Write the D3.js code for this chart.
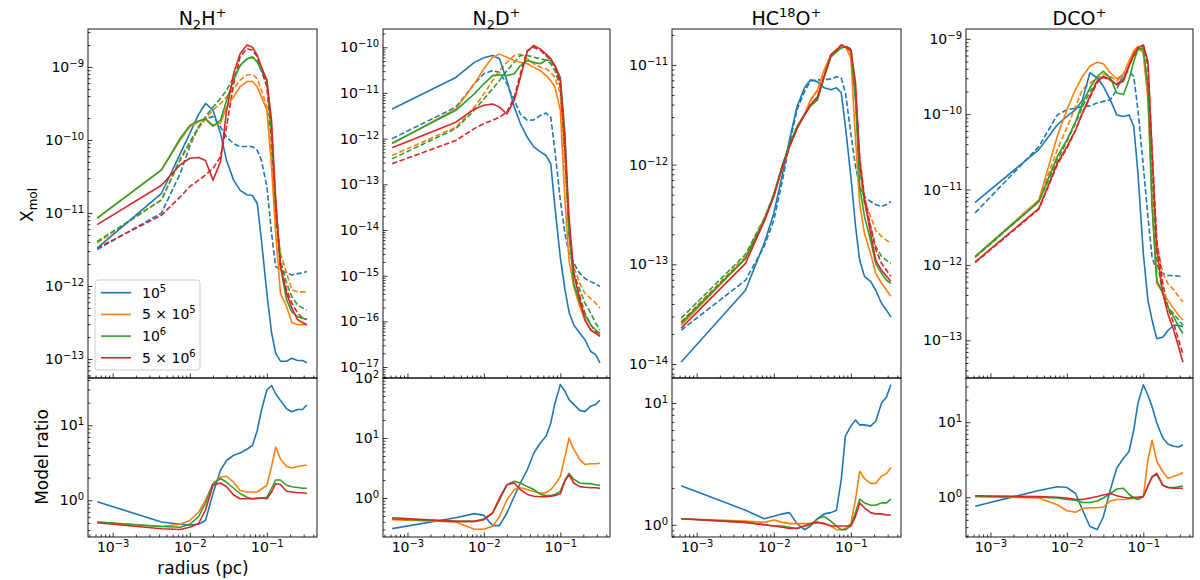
<!DOCTYPE html>
<html>
<head>
<meta charset="UTF-8">
<title>Model abundance profiles</title>
<script src="https://d3js.org/d3.v7.min.js"></script>
<style>
  body { margin: 0; background: #fff; }
  svg text { font-family: "DejaVu Sans", sans-serif; fill: #000; }
</style>
</head>
<body>
<svg id="mainsvg" width="1200" height="580"></svg>
<script>
// radius grid (pc), shared by all models
const radius = [6.3e-4, 4.3e-3, 7.5e-3, 1.0e-2, 1.3e-2, 1.6e-2, 2.0e-2, 2.5e-2, 3.0e-2, 3.7e-2, 4.5e-2, 5.5e-2,
                6.5e-2, 7.5e-2, 8.5e-2, 0.10, 0.115, 0.13, 0.15, 0.18, 0.21, 0.25, 0.29, 0.33];
const modelLabels = [['10', '5'], ['5 × 10', '5'], ['10', '6'], ['5 × 10', '6']];
const modelColors = ['#1f77b4', '#ff7f0e', '#2ca02c', '#d62728'];

// values, stored as log10 (blue, orange, green, red)
const n2hSolid = [
  [-11.48, -10.73, -10.19, -9.91, -9.65, -9.50, -9.59, -9.91, -10.28, -10.55, -10.69, -10.75, -10.76, -10.87, -11.37, -12.10, -12.64, -12.92, -13.03, -13.03, -12.99, -13.02, -13.02, -13.05],
  [-11.07, -10.41, -10.00, -9.82, -9.75, -9.71, -9.80, -9.77, -9.55, -9.41, -9.27, -9.20, -9.20, -9.27, -9.41, -9.59, -10.37, -11.28, -12.10, -12.28, -12.50, -12.53, -12.53, -12.53],
  [-11.07, -10.41, -9.98, -9.80, -9.74, -9.71, -9.81, -9.73, -9.46, -9.18, -8.98, -8.89, -8.86, -8.93, -9.05, -9.18, -9.91, -10.82, -11.73, -12.19, -12.35, -12.42, -12.44, -12.46],
  [-11.16, -10.62, -10.34, -10.25, -10.24, -10.28, -10.55, -10.30, -9.60, -9.09, -8.82, -8.70, -8.73, -8.84, -9.00, -9.18, -9.73, -10.82, -11.73, -12.10, -12.30, -12.46, -12.50, -12.53]
];
const n2hDashed = [
  [-11.50, -11.00, -10.46, -10.09, -9.82, -9.71, -9.68, -9.82, -9.96, -10.05, -10.09, -10.09, -10.09, -10.14, -10.28, -10.64, -11.28, -11.73, -11.78, -11.82, -11.85, -11.83, -11.82, -11.80],
  [-11.41, -10.82, -10.28, -10.05, -9.84, -9.71, -9.59, -9.50, -9.41, -9.30, -9.18, -9.11, -9.10, -9.16, -9.32, -9.55, -10.28, -11.05, -11.55, -11.82, -12.05, -12.08, -12.08, -12.08],
  [-11.39, -10.82, -10.26, -10.03, -9.82, -9.68, -9.55, -9.43, -9.32, -9.14, -8.98, -8.89, -8.87, -8.93, -9.05, -9.23, -10.00, -10.91, -11.64, -11.96, -12.14, -12.26, -12.30, -12.33],
  [-11.48, -11.03, -10.78, -10.64, -10.55, -10.48, -10.39, -10.23, -9.82, -9.23, -8.86, -8.75, -8.77, -8.86, -9.05, -9.27, -10.00, -11.00, -11.73, -12.05, -12.23, -12.37, -12.44, -12.46]
];
const n2hRatio = [
  [-0.02, -0.29, -0.32, -0.33, -0.32, -0.27, 0.09, 0.40, 0.53, 0.60, 0.63, 0.68, 0.73, 0.93, 1.20, 1.47, 1.53, 1.42, 1.33, 1.22, 1.18, 1.21, 1.21, 1.27],
  [-0.29, -0.35, -0.32, -0.27, -0.16, 0.00, 0.22, 0.31, 0.32, 0.24, 0.13, 0.11, 0.11, 0.11, 0.15, 0.20, 0.45, 0.71, 0.55, 0.45, 0.43, 0.45, 0.46, 0.47],
  [-0.29, -0.35, -0.36, -0.32, -0.22, -0.04, 0.22, 0.29, 0.24, 0.16, 0.09, 0.04, 0.02, 0.02, 0.03, 0.04, 0.16, 0.27, 0.27, 0.20, 0.18, 0.17, 0.16, 0.16],
  [-0.30, -0.38, -0.39, -0.36, -0.31, -0.13, 0.20, 0.23, 0.18, 0.07, 0.02, 0.02, 0.02, 0.03, 0.03, 0.02, 0.11, 0.22, 0.21, 0.12, 0.11, 0.10, 0.10, 0.09]
];

const n2dSolid = [
  [-11.35, -10.66, -10.33, -10.23, -10.18, -10.25, -10.73, -11.31, -11.67, -11.97, -12.18, -12.29, -12.37, -12.55, -13.50, -14.60, -15.30, -15.80, -16.08, -16.26, -16.40, -16.66, -16.73, -16.91],
  [-12.11, -11.35, -10.80, -10.47, -10.22, -10.15, -10.22, -10.29, -10.33, -10.36, -10.44, -10.51, -10.62, -10.73, -10.87, -11.38, -13.35, -14.66, -15.24, -15.68, -15.97, -16.19, -16.26, -16.30],
  [-12.10, -11.38, -11.02, -10.80, -10.62, -10.60, -10.62, -10.58, -10.40, -10.29, -10.33, -10.36, -10.28, -10.29, -10.40, -10.66, -11.89, -14.08, -15.17, -15.60, -15.86, -16.08, -16.19, -16.26],
  [-12.20, -11.64, -11.35, -11.27, -11.24, -11.31, -11.46, -11.16, -10.66, -10.09, -9.96, -10.04, -10.15, -10.25, -10.40, -10.73, -12.04, -13.71, -14.95, -15.53, -15.97, -16.19, -16.26, -16.33]
];
const n2dDashed = [
  [-12.00, -11.31, -10.80, -10.58, -10.51, -10.55, -10.80, -11.16, -11.46, -11.60, -11.59, -11.49, -11.44, -11.53, -12.26, -13.35, -14.08, -14.51, -14.73, -14.95, -15.06, -15.13, -15.18, -15.24],
  [-12.37, -11.75, -11.31, -11.02, -10.73, -10.51, -10.33, -10.18, -10.15, -10.25, -10.36, -10.44, -10.47, -10.55, -10.66, -11.02, -12.62, -14.08, -14.80, -15.17, -15.39, -15.50, -15.60, -15.71],
  [-12.44, -11.78, -11.38, -11.13, -10.91, -10.73, -10.51, -10.33, -10.18, -10.18, -10.22, -10.25, -10.28, -10.36, -10.51, -10.87, -12.26, -14.08, -14.95, -15.31, -15.60, -15.82, -16.04, -16.19],
  [-12.55, -12.04, -11.78, -11.67, -11.60, -11.53, -11.42, -11.09, -10.58, -10.07, -10.00, -10.07, -10.18, -10.29, -10.44, -10.80, -12.26, -13.93, -14.95, -15.46, -15.82, -16.08, -16.22, -16.30]
];
const n2dRatio = [
  [-0.51, -0.33, -0.26, -0.29, -0.46, -0.46, -0.25, 0.03, 0.25, 0.47, 0.75, 0.92, 1.03, 1.25, 1.58, 1.89, 1.78, 1.64, 1.56, 1.46, 1.44, 1.53, 1.56, 1.63],
  [-0.36, -0.40, -0.52, -0.52, -0.47, -0.31, -0.03, 0.14, 0.17, 0.14, 0.11, 0.08, 0.09, 0.14, 0.22, 0.36, 0.69, 1.00, 0.81, 0.64, 0.56, 0.57, 0.57, 0.58],
  [-0.35, -0.39, -0.39, -0.35, -0.25, -0.03, 0.22, 0.28, 0.25, 0.19, 0.14, 0.06, 0.04, 0.04, 0.06, 0.11, 0.30, 0.41, 0.31, 0.25, 0.24, 0.24, 0.22, 0.21],
  [-0.33, -0.39, -0.39, -0.36, -0.25, 0.00, 0.22, 0.25, 0.14, 0.06, 0.03, 0.02, 0.02, 0.03, 0.04, 0.07, 0.28, 0.39, 0.25, 0.19, 0.18, 0.17, 0.17, 0.16]
];

const hc18oSolid = [
  [-13.98, -13.26, -12.79, -12.49, -12.09, -11.75, -11.42, -11.23, -11.15, -11.17, -11.23, -11.25, -11.23, -11.28, -11.62, -12.12, -12.62, -12.96, -13.12, -13.17, -13.26, -13.39, -13.46, -13.53],
  [-13.61, -12.94, -12.56, -12.32, -12.02, -11.82, -11.64, -11.50, -11.35, -11.25, -11.05, -10.90, -10.85, -10.82, -10.82, -10.93, -11.75, -12.39, -12.69, -12.89, -13.09, -13.19, -13.26, -13.32],
  [-13.59, -12.94, -12.56, -12.30, -12.00, -11.80, -11.62, -11.50, -11.41, -11.35, -11.12, -10.92, -10.87, -10.83, -10.82, -10.85, -11.35, -12.22, -12.52, -12.76, -12.99, -13.09, -13.16, -13.19],
  [-13.64, -12.99, -12.57, -12.32, -12.02, -11.82, -11.64, -11.50, -11.40, -11.32, -11.12, -10.90, -10.85, -10.80, -10.82, -10.85, -11.18, -11.95, -12.35, -12.69, -12.96, -13.06, -13.12, -13.17]
];
const hc18oDashed = [
  [-13.66, -13.16, -12.82, -12.56, -12.15, -11.79, -11.45, -11.27, -11.16, -11.15, -11.15, -11.14, -11.12, -11.13, -11.28, -11.69, -12.02, -12.22, -12.32, -12.37, -12.40, -12.42, -12.40, -12.37],
  [-13.58, -12.92, -12.55, -12.31, -12.01, -11.81, -11.63, -11.50, -11.36, -11.26, -11.06, -10.90, -10.85, -10.82, -10.82, -10.88, -11.35, -12.02, -12.35, -12.52, -12.66, -12.72, -12.76, -12.79],
  [-13.54, -12.90, -12.54, -12.30, -12.00, -11.80, -11.62, -11.50, -11.41, -11.34, -11.12, -10.92, -10.86, -10.83, -10.82, -10.84, -11.32, -12.02, -12.39, -12.62, -12.82, -12.92, -12.96, -12.99],
  [-13.58, -12.94, -12.56, -12.31, -12.01, -11.81, -11.63, -11.50, -11.40, -11.32, -11.12, -10.90, -10.85, -10.80, -10.81, -10.84, -11.28, -11.92, -12.32, -12.62, -12.85, -12.99, -13.06, -13.12]
];
const hc18oRatio = [
  [0.32, 0.12, 0.05, 0.07, 0.09, 0.10, 0.01, -0.04, -0.01, 0.05, 0.09, 0.10, 0.12, 0.37, 0.73, 0.81, 0.86, 0.82, 0.82, 0.81, 0.85, 1.00, 1.05, 1.15],
  [0.05, 0.03, 0.02, 0.04, 0.02, 0.01, 0.01, 0.01, 0.01, 0.02, 0.01, -0.01, -0.04, -0.04, -0.03, 0.01, 0.21, 0.44, 0.38, 0.34, 0.34, 0.40, 0.42, 0.47],
  [0.05, 0.02, 0.00, -0.01, -0.01, -0.02, -0.03, -0.01, 0.00, 0.05, 0.07, 0.03, -0.01, -0.04, -0.04, -0.01, 0.10, 0.21, 0.18, 0.16, 0.16, 0.18, 0.18, 0.21],
  [0.05, 0.02, 0.00, -0.01, -0.02, -0.03, -0.03, -0.01, 0.01, 0.02, 0.01, -0.01, -0.01, -0.01, -0.01, -0.01, 0.07, 0.18, 0.14, 0.10, 0.09, 0.09, 0.08, 0.08]
];

const dcoSolid = [
  [-11.17, -10.47, -10.14, -10.03, -9.94, -9.81, -9.45, -9.52, -9.63, -9.81, -10.01, -10.03, -10.01, -10.16, -10.78, -11.85, -12.47, -12.73, -12.98, -12.96, -12.87, -12.80, -12.80, -12.82],
  [-11.89, -11.14, -10.29, -9.94, -9.67, -9.50, -9.36, -9.31, -9.33, -9.45, -9.53, -9.47, -9.30, -9.16, -9.10, -9.19, -9.81, -11.14, -12.25, -12.36, -12.47, -12.58, -12.67, -12.73],
  [-11.89, -11.16, -10.56, -10.34, -10.10, -9.85, -9.65, -9.50, -9.43, -9.52, -9.72, -9.74, -9.54, -9.30, -9.14, -9.12, -9.67, -11.23, -12.20, -12.38, -12.56, -12.69, -12.82, -12.91],
  [-11.96, -11.25, -10.65, -10.43, -10.21, -9.98, -9.76, -9.56, -9.50, -9.54, -9.61, -9.56, -9.36, -9.21, -9.12, -9.08, -9.30, -10.47, -11.80, -12.38, -12.65, -12.87, -13.09, -13.29]
];
const dcoDashed = [
  [-11.31, -10.43, -10.01, -9.94, -9.92, -9.90, -9.89, -9.85, -9.83, -9.81, -9.67, -9.47, -9.43, -9.50, -9.94, -10.69, -11.36, -11.89, -12.09, -12.11, -12.14, -12.14, -12.15, -12.15],
  [-11.89, -11.14, -10.47, -10.18, -9.90, -9.67, -9.59, -9.52, -9.47, -9.50, -9.56, -9.47, -9.30, -9.18, -9.12, -9.19, -9.75, -10.92, -11.71, -12.11, -12.25, -12.33, -12.42, -12.49],
  [-11.90, -11.16, -10.61, -10.36, -10.12, -9.90, -9.70, -9.56, -9.50, -9.54, -9.61, -9.54, -9.36, -9.23, -9.14, -9.14, -9.63, -10.83, -11.94, -12.38, -12.56, -12.65, -12.73, -12.80],
  [-11.97, -11.26, -10.67, -10.45, -10.21, -9.99, -9.78, -9.58, -9.51, -9.55, -9.60, -9.54, -9.36, -9.21, -9.12, -9.09, -9.36, -10.47, -11.67, -12.25, -12.56, -12.78, -13.00, -13.18]
];
const dcoRatio = [
  [-0.12, 0.09, 0.14, 0.13, 0.05, -0.17, -0.39, -0.43, -0.26, 0.10, 0.39, 0.52, 0.61, 0.90, 1.25, 1.50, 1.36, 1.21, 0.99, 0.79, 0.71, 0.68, 0.67, 0.70],
  [0.01, -0.01, -0.10, -0.18, -0.20, -0.15, -0.14, -0.14, -0.13, -0.05, -0.03, -0.03, -0.02, -0.02, -0.01, 0.01, 0.50, 0.76, 0.48, 0.34, 0.25, 0.28, 0.30, 0.33],
  [0.01, 0.00, -0.01, -0.03, -0.04, -0.07, -0.07, -0.05, -0.01, 0.05, 0.11, 0.12, 0.04, -0.01, -0.03, 0.01, 0.15, 0.27, 0.31, 0.16, 0.13, 0.13, 0.14, 0.15],
  [0.02, 0.01, 0.00, -0.01, -0.03, -0.03, -0.01, 0.01, 0.03, 0.05, 0.02, 0.00, -0.01, 0.00, 0.00, 0.01, 0.15, 0.27, 0.32, 0.16, 0.13, 0.12, 0.12, 0.12]
];

// panel layout
const panels = [
  {title: [['N'], ['2', 'sub'], ['H'], ['+', 'sup']], solid: n2hSolid, dashed: n2hDashed, ratio: n2hRatio,
   left: 88, right: 317, topLim: [-13.26, -8.48], botLim: [-0.49, 1.63]},
  {title: [['N'], ['2', 'sub'], ['D'], ['+', 'sup']], solid: n2dSolid, dashed: n2dDashed, ratio: n2dRatio,
   left: 383, right: 610, topLim: [-17.24, -9.6], botLim: [-0.65, 2.0]},
  {title: [['HC'], ['18', 'sup'], ['O'], ['+', 'sup']], solid: hc18oSolid, dashed: hc18oDashed, ratio: hc18oRatio,
   left: 672, right: 901, topLim: [-14.14, -10.64], botLim: [-0.1, 1.205]},
  {title: [['DCO'], ['+', 'sup']], solid: dcoSolid, dashed: dcoDashed, ratio: dcoRatio,
   left: 966, right: 1193, topLim: [-13.5, -8.87], botLim: [-0.53, 1.59]}
];
const topY0 = 29, midY = 378, botY1 = 537;
const xLim = [Math.pow(10, -3.32), Math.pow(10, -0.35)];

const svg = d3.select('#mainsvg');

// major / minor tick values for a log axis
const logTicks = function(lo, hi){
  const major = [], minor = [];
  for (let e = Math.floor(lo); e <= Math.ceil(hi); e++) {
    if (e >= lo - 1e-9 && e <= hi + 1e-9) major.push(Math.pow(10, e));
    for (let k = 2; k < 10; k++) {
      const v = k * Math.pow(10, e);
      const lv = Math.log10(v);
      if (lv >= lo && lv <= hi) minor.push(v);
    }
  }
  return {major, minor};
};

// replace tick text by "10" with superscript exponent
const powLabel = function(sel){
  sel.each(function(d){
    const t = d3.select(this);
    const e = Math.round(Math.log10(d));
    t.text(null);
    t.append('tspan').text('10');
    t.append('tspan').attr('dy', '-0.5em').attr('font-size', '10px')
      .text(e < 0 ? '\u2212' + (-e) : String(e));
  });
};

const drawAxes = function(g, xScale, yScale, lim, w, h, showX){
  const yt = logTicks(lim[0], lim[1]);
  const yMinor = g.append('g').call(d3.axisLeft(yScale).tickValues(yt.minor).tickSize(-2.5).tickFormat(''));
  const yMajor = g.append('g').call(d3.axisLeft(yScale).tickValues(yt.major).tickSize(-4.5).tickPadding(4));
  yMajor.selectAll('.tick text').attr('font-size', '14px').attr('font-family', 'DejaVu Sans').call(powLabel);

  const xt = logTicks(Math.log10(xLim[0]), Math.log10(xLim[1]));
  const xMinor = g.append('g').attr('transform', `translate(0,${h})`)
    .call(d3.axisBottom(xScale).tickValues(xt.minor).tickSize(-2.5).tickFormat(''));
  const xMajor = g.append('g').attr('transform', `translate(0,${h})`)
    .call(d3.axisBottom(xScale).tickValues(xt.major).tickSize(-4.5).tickPadding(4));
  if (showX) {
    xMajor.selectAll('.tick text').attr('font-size', '14px').attr('font-family', 'DejaVu Sans')
      .attr('y', 15).attr('dy', 0).call(powLabel);
  } else {
    xMajor.selectAll('.tick text').remove();
  }
  [yMinor, yMajor, xMinor, xMajor].forEach(a => {
    a.select('.domain').remove();
    a.selectAll('.tick line').attr('stroke', '#000').attr('stroke-width', 0.8);
  });
  g.append('rect').attr('width', w).attr('height', h)
    .attr('fill', 'none').attr('stroke', '#000').attr('stroke-width', 0.9);
};

panels.forEach((p, pi) => {
  const w = p.right - p.left;
  const xScale = d3.scaleLog().domain(xLim).range([0, w]);

  // ---- top panel: abundances
  const hTop = midY - topY0;
  const yTop = d3.scaleLog().domain([Math.pow(10, p.topLim[0]), Math.pow(10, p.topLim[1])]).range([hTop, 0]);
  const gTop = svg.append('g').attr('transform', `translate(${p.left},${topY0})`);
  gTop.append('clipPath').attr('id', 'clipTop' + pi)
    .append('rect').attr('width', w).attr('height', hTop);
  const lineTop = d3.line()
    .x((d, i) => xScale(radius[i])).y(d => yTop(Math.pow(10, d)));
  const linesTop = gTop.append('g').attr('clip-path', `url(#clipTop${pi})`);
  p.dashed.forEach((s, i) => {
    linesTop.append('path').attr('d', lineTop(s)).attr('fill', 'none').attr('stroke-linejoin', 'round')
      .attr('stroke', modelColors[i]).attr('stroke-width', 1.6).attr('stroke-dasharray', '5.5,2.4');
  });
  p.solid.forEach((s, i) => {
    linesTop.append('path').attr('d', lineTop(s)).attr('fill', 'none').attr('stroke-linejoin', 'round')
      .attr('stroke', modelColors[i]).attr('stroke-width', 1.6);
  });
  drawAxes(gTop, xScale, yTop, p.topLim, w, hTop, false);

  // title, with sub/superscripts
  const title = svg.append('text').attr('x', p.left + w / 2).attr('y', 25)
    .attr('text-anchor', 'middle').attr('font-size', '19px');
  let shift = 0;
  p.title.forEach(part => {
    const ts = title.append('tspan').text(part[0]);
    const s = part[1] === 'sub' ? 4 : part[1] === 'sup' ? -8 : 0;
    if (s !== 0) ts.attr('font-size', '13px');
    if (s - shift !== 0) ts.attr('dy', s - shift);
    shift = s;
  });

  // ---- bottom panel: model ratio
  const hBot = botY1 - midY;
  const yBot = d3.scaleLog().domain([Math.pow(10, p.botLim[0]), Math.pow(10, p.botLim[1])]).range([hBot, 0]);
  const gBot = svg.append('g').attr('transform', `translate(${p.left},${midY})`);
  gBot.append('clipPath').attr('id', 'clipBot' + pi)
    .append('rect').attr('width', w).attr('height', hBot);
  const lineBot = d3.line()
    .x((d, i) => xScale(radius[i])).y(d => yBot(Math.pow(10, d)));
  const linesBot = gBot.append('g').attr('clip-path', `url(#clipBot${pi})`);
  p.ratio.forEach((s, i) => {
    linesBot.append('path').attr('d', lineBot(s)).attr('fill', 'none').attr('stroke-linejoin', 'round')
      .attr('stroke', modelColors[i]).attr('stroke-width', 1.6);
  });
  drawAxes(gBot, xScale, yBot, p.botLim, w, hBot, true);
});

// axis labels
const xmol = svg.append('text').attr('transform', 'translate(33,205) rotate(-90)')
  .attr('text-anchor', 'middle').attr('font-size', '17px');
xmol.append('tspan').text('X');
xmol.append('tspan').attr('dy', 4).attr('font-size', '12px').text('mol');

svg.append('text').attr('transform', 'translate(48,457) rotate(-90)')
  .attr('text-anchor', 'middle').attr('font-size', '17px').text('Model ratio');

svg.append('text').attr('x', 203).attr('y', 574)
  .attr('text-anchor', 'middle').attr('font-size', '17px').text('radius (pc)');

// legend
const legend = svg.append('g').attr('transform', 'translate(95,280)');
legend.append('rect').attr('width', 105).attr('height', 90).attr('rx', 3)
  .attr('fill', '#fff').attr('fill-opacity', 0.8).attr('stroke', '#ccc').attr('stroke-width', 1);
modelLabels.forEach((lab, i) => {
  const y = 12.7 + i * 21.7;
  legend.append('line').attr('x1', 6).attr('x2', 36).attr('y1', y).attr('y2', y)
    .attr('stroke', modelColors[i]).attr('stroke-width', 1.6);
  const t = legend.append('text').attr('x', 47).attr('y', y + 5).attr('font-size', '14px');
  t.append('tspan').text(lab[0]);
  t.append('tspan').attr('dy', -6).attr('font-size', '10px').text(lab[1]);
});
</script>
</body>
</html>
